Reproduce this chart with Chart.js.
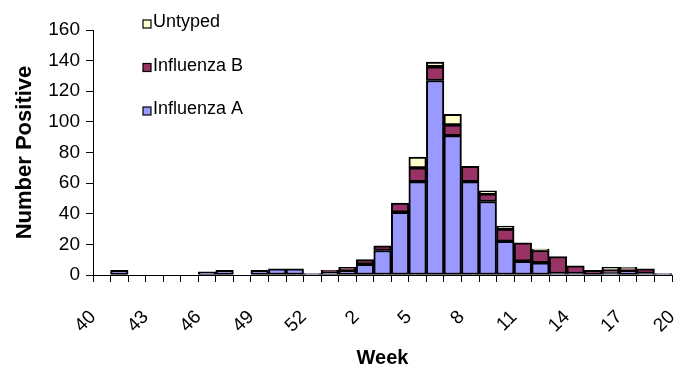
<!DOCTYPE html>
<html>
<head>
<meta charset="utf-8">
<title>Influenza positives by week</title>
<script src="https://cdn.jsdelivr.net/npm/chart.js@4.4.0/dist/chart.umd.min.js"></script>
<style>
  html, body { margin: 0; padding: 0; background: #fff; }
  #wrap { width: 678px; height: 370px; }
</style>
</head>
<body>
<div id="wrap"><canvas id="fluChart" width="678" height="370"></canvas></div>
<script>
// one bar per week, season runs week 40 -> week 19 (53-week year)
const weeks = [40, 41, 42, 43, 44, 45, 46, 47, 48, 49, 50, 51, 52, 53,
  1, 2, 3, 4, 5, 6, 7, 8, 9, 10, 11, 12, 13, 14, 15, 16, 17, 18, 19];

const influenzaA = [0, 3, 0, 0, 0, 0, 2, 3, 0, 3, 4, 4, 1, 2,
  3, 7, 16, 41, 61, 127, 91, 61, 48, 22, 9, 8, 1, 1, 0, 1, 3, 1, 1];
const influenzaB = [0, 0, 0, 0, 0, 0, 0, 0, 0, 0, 0, 0, 0, 1,
  2, 3, 3, 6, 9, 9, 7, 10, 5, 8, 12, 8, 11, 5, 3, 2, 1, 3, 0];
const untyped = [0, 0, 0, 0, 0, 0, 0, 0, 0, 0, 0, 0, 0, 0,
  0, 0, 0, 0, 7, 3, 7, 0, 2, 2, 0, 1, 0, 0, 0, 2, 1, 0, 0];

// labels sit on the tick marks between bars, every third week
const tickLabels = ["40", "43", "46", "49", "52", "2", "5", "8", "11", "14", "17", "20"];

const yTicks = [0, 20, 40, 60, 80, 100, 120, 140, 160];

const FONT = "'Liberation Sans', Arial, sans-serif";
Chart.defaults.font.family = FONT;
Chart.defaults.color = "#000";

// bars are placed at the middle of each week slot on a linear axis
function toPoints(values) {
  return values.map((v, i) => ({ x: i + 0.5, y: v }));
}

// Excel-like legend in the top left corner, drawn from the datasets
const cornerLegend = {
  id: "cornerLegend",
  afterDraw(chart) {
    const ctx = chart.ctx;
    const items = chart.data.datasets.slice().reverse();
    ctx.save();
    ctx.font = "18px " + FONT;
    ctx.textBaseline = "alphabetic";
    ctx.textAlign = "left";
    items.forEach((ds, i) => {
      const top = 20 + i * 43.5;
      ctx.fillStyle = ds.backgroundColor;
      ctx.fillRect(143, top, 8, 8);
      ctx.strokeStyle = "#000";
      ctx.lineWidth = 1.2;
      ctx.strokeRect(143, top, 8, 8);
      ctx.fillStyle = "#000";
      ctx.fillText(ds.label, 153, top + 7);
    });
    ctx.restore();
  }
};

const barStyle = {
  borderColor: "#000",
  borderWidth: 2,
  borderSkipped: false,
  barPercentage: 1,
  categoryPercentage: 1
};

new Chart(document.getElementById("fluChart").getContext("2d"), {
  type: "bar",
  data: {
    datasets: [
      { label: "Influenza A", data: toPoints(influenzaA), backgroundColor: "#9999FF", ...barStyle },
      { label: "Influenza B", data: toPoints(influenzaB), backgroundColor: "#993366", ...barStyle },
      { label: "Untyped", data: toPoints(untyped), backgroundColor: "#FFFFCC", ...barStyle }
    ]
  },
  options: {
    responsive: false,
    animation: false,
    layout: { padding: { top: 30, right: 6, left: 0, bottom: 0 } },
    plugins: {
      legend: { display: false },
      tooltip: { enabled: false }
    },
    scales: {
      x: {
        type: "linear",
        stacked: true,
        offset: false,
        min: 0,
        max: weeks.length,
        afterFit: (scale) => {
          scale.height = 95;
          scale.paddingLeft = 0;
          scale.paddingRight = 0;
        },
        afterBuildTicks: (scale) => {
          scale.ticks = weeks.map((w, i) => ({ value: i })).concat({ value: weeks.length });
        },
        grid: { drawOnChartArea: false, drawTicks: true, tickLength: 7, color: "#000", offset: false },
        border: { color: "#000", width: 1 },
        ticks: {
          autoSkip: false,
          minRotation: 45,
          maxRotation: 45,
          padding: 24,
          font: { size: 19 },
          callback: (v) => (v % 3 === 0 ? tickLabels[v / 3] : "")
        },
        title: {
          display: true,
          text: "Week",
          font: { size: 20, weight: "bold" },
          padding: 0
        }
      },
      y: {
        stacked: true,
        min: 0,
        max: 160,
        afterFit: (scale) => { scale.width = 93; },
        afterBuildTicks: (scale) => {
          scale.ticks = yTicks.map(v => ({ value: v }));
        },
        grid: { drawOnChartArea: false, drawTicks: true, tickLength: 7, color: "#000" },
        border: { color: "#000", width: 1 },
        ticks: { padding: 6, font: { size: 19 } },
        title: {
          display: true,
          text: "Number Positive",
          font: { size: 22, weight: "bold" },
          padding: { top: 12, bottom: 4 }
        }
      }
    }
  },
  plugins: [cornerLegend]
});
</script>
</body>
</html>
